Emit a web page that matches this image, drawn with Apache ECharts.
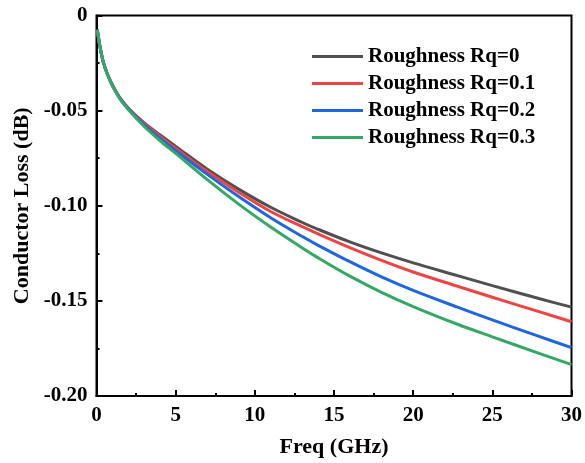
<!DOCTYPE html>
<html><head><meta charset="utf-8">
<script src="https://cdn.jsdelivr.net/npm/echarts@6/dist/echarts.min.js"></script>
<style>html,body{margin:0;padding:0;background:#fff}#c{width:585px;height:463px}</style>
</head><body><div id="c"></div>
<script>
const freq = [0.05, 0.2, 0.43, 0.7, 1, 1.5, 2.16, 3, 4, 5, 7, 9, 11, 13, 14, 16, 18, 20, 22.8, 25, 28, 30];
const rq0  = [-0.0075, -0.0155, -0.0245, -0.031, -0.0365, -0.0435, -0.0500, -0.0563, -0.0627, -0.0688, -0.0808, -0.0914, -0.1008, -0.1088, -0.1124, -0.1190, -0.1248, -0.1300, -0.1367, -0.1420, -0.1489, -0.1533];
const rq01 = [-0.0075, -0.0155, -0.0245, -0.031, -0.0365, -0.0436, -0.0501, -0.0566, -0.0634, -0.0698, -0.0820, -0.0930, -0.1030, -0.1110, -0.1148, -0.1220, -0.1287, -0.1348, -0.1423, -0.1481, -0.1558, -0.1610];
const rq02 = [-0.0075, -0.0155, -0.0245, -0.031, -0.0366, -0.0438, -0.0504, -0.0574, -0.0645, -0.0710, -0.0835, -0.0953, -0.1063, -0.1162, -0.1208, -0.1294, -0.1374, -0.1445, -0.1533, -0.1600, -0.1688, -0.1746];
const rq03 = [-0.0075, -0.0155, -0.0246, -0.0312, -0.0368, -0.0441, -0.0509, -0.0582, -0.0657, -0.0725, -0.0863, -0.0993, -0.1112, -0.1222, -0.1274, -0.1370, -0.1455, -0.1530, -0.1623, -0.1689, -0.1777, -0.1835];
const seriesNames = ['Roughness Rq=0', 'Roughness Rq=0.1', 'Roughness Rq=0.2', 'Roughness Rq=0.3'];
const seriesData = [rq0, rq01, rq02, rq03];
const colors = ['#505050', '#ee4444', '#1f66e0', '#35a865'];
const xTicks = [0, 5, 10, 15, 20, 25, 30];
const yTicks = [0, -0.05, -0.10, -0.15, -0.20];

const font = '"Liberation Serif","Times New Roman",serif';
const chart = echarts.init(document.getElementById('c'));
chart.setOption({
  animation: false,
  color: colors,
  grid: {left: 96.5, right: 10, top: 15.5, bottom: 62, show: true, borderColor: '#000', borderWidth: 2, containLabel: false},
  legend: {
    left: 312, top: 46, orient: 'vertical', itemWidth: 51, itemHeight: 3, itemGap: 6, padding: 0,
    icon: 'rect',
    data: seriesNames,
    textStyle: {fontFamily: font, fontWeight: 'bold', fontSize: 21, color: '#000'}
  },
  xAxis: {
    type: 'value', min: xTicks[0], max: xTicks[xTicks.length-1], interval: 5,
    name: 'Freq (GHz)', nameLocation: 'middle', nameGap: 40,
    nameTextStyle: {fontFamily: font, fontWeight: 'bold', fontSize: 22, color: '#000'},
    axisLine: {show: true, onZero: false, lineStyle: {color: '#000', width: 2}},
    axisTick: {show: true, inside: true, length: 6, lineStyle: {color: '#000', width: 2}},
    minorTick: {show: true, splitNumber: 2, length: 3, lineStyle: {color: '#000', width: 2}},
    axisLabel: {margin: 9, fontFamily: font, fontWeight: 'bold', fontSize: 21, color: '#000'},
    splitLine: {show: false}
  },
  yAxis: {
    type: 'value', min: yTicks[yTicks.length-1], max: yTicks[0], interval: 0.05,
    name: 'Conductor Loss (dB)', nameLocation: 'middle', nameGap: 61, nameRotate: 90,
    nameTextStyle: {fontFamily: font, fontWeight: 'bold', fontSize: 22, color: '#000'},
    axisLine: {show: true, onZero: false, lineStyle: {color: '#000', width: 2}},
    axisTick: {show: true, inside: true, length: 6, lineStyle: {color: '#000', width: 2}},
    minorTick: {show: true, splitNumber: 2, length: 3, lineStyle: {color: '#000', width: 2}},
    axisLabel: {margin: 9, fontFamily: font, fontWeight: 'bold', fontSize: 21, color: '#000',
      formatter: v => v === 0 ? '0' : v.toFixed(2)},
    splitLine: {show: false}
  },
  series: seriesNames.map((n, i) => ({
    name: n, type: 'line', smooth: 0.35, showSymbol: false, symbol: 'none',
    lineStyle: {width: 3, color: colors[i]},
    data: freq.map((f, j) => [f, seriesData[i][j]])
  }))
});
</script></body></html>
